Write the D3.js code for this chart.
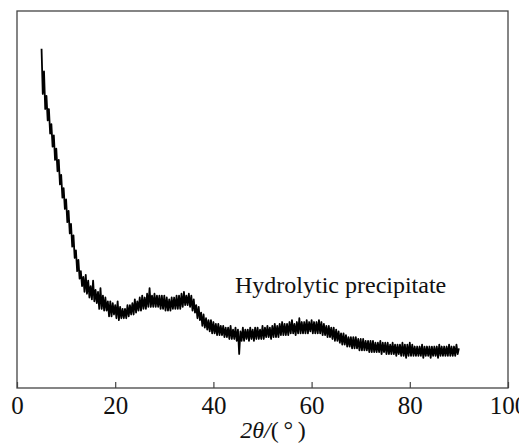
<!DOCTYPE html>
<html>
<head>
<meta charset="utf-8">
<script src="https://cdn.jsdelivr.net/npm/d3@7"></script>
<style>
	body { margin: 0; background: #fff; }
	text { font-family: "Liberation Serif", "Times New Roman", serif; }
</style>
</head>
<body>
<div class="xrd-plot"></div>
<script>
// 2theta sampling of the scan (5 to 90 deg, 0.25 deg step)
const thetaStart = 5;
const thetaStep = 0.25;

// intensity, arbitrary units (0 = frame bottom, 100 = frame top)
const intensity = [
	90, 78, 84, 74,   77.5, 71, 74, 67.5,   70, 64, 67, 60.5,   63.5, 57.5, 60.5, 54,   56.5, 50.5, 53, 47.5,
	50, 44, 47, 41,   43.5, 37.5, 40.5, 34.5,   36.5, 31, 34, 29,   31, 27, 29.5, 25.5,   30, 25, 28.5, 24,
	27, 23.5, 28.5, 23,   26, 22.5, 25.5, 21,   26.5, 21, 24.5, 20.5,   24, 20.5, 23, 19,   23, 19, 22.5, 19.5,
	22, 18.5, 23, 18,   21.5, 18.5, 21, 18.5,   21, 18.5, 22, 19,   22, 19.5, 22.5, 19.5,   23.5, 20, 23, 20.5,
	24, 20.5, 24.5, 21,   24, 21, 25, 21.5,   26.5, 21.5, 24.5, 21.5,   25, 21.5, 24.5, 21.5,   24.5, 21, 24.5, 21,
	24.5, 20.5, 24, 20.5,   23.5, 20.5, 24, 21,   24, 21, 24.5, 21,   24.5, 21, 25, 21.5,   25.5, 22, 24.5, 22,
	25, 21.5, 24.5, 20.5,   23.5, 20, 22, 18.5,   21.5, 18, 20, 16.5,   19.5, 16, 18.5, 15.5,   18, 15, 18, 14.5,
	17.5, 14.5, 17, 14,   17, 14, 16.5, 14,   16.5, 13.5, 16, 13.5,   16, 13, 16.5, 13,   15.5, 13, 16, 12.5,
	15.5, 9, 15, 12.5,   16, 12.5, 15.5, 13,   15.5, 12.5, 16, 13,   15.5, 12.5, 16, 13,   16, 13, 15.5, 13,
	16.5, 13, 16, 13.5,   16.5, 13.5, 16, 13,   16.5, 13.5, 17, 13.5,   16.5, 13.5, 17, 14,   17.5, 14, 17, 14,
	17, 14, 17.5, 14.5,   18, 14.5, 17, 14,   17.5, 14.5, 18.5, 14.5,   17.5, 14.5, 17.5, 14.5,   18, 14.5, 17.5, 15,
	18, 14.5, 17.5, 14.5,   17.5, 14.5, 18, 14.5,   17.5, 14, 17, 14,   16.5, 13.5, 16.5, 13.5,   16, 13, 16, 12.5,
	15.5, 12.5, 15, 12,   14.5, 11.5, 14.5, 11.5,   14, 11, 13.5, 11,   13.5, 10.5, 13.5, 10.5,   13.5, 10.5, 13, 10,
	13, 10, 13, 10,   12.5, 10, 12.5, 9.5,   12.5, 9.5, 12.5, 9.5,   12, 9.5, 12, 9.5,   12.5, 9, 12, 9.5,
	12, 9, 12, 9,   11.5, 9, 12, 9,   11.5, 8.5, 11.5, 9,   11.5, 8.5, 12, 8.5,   11.5, 8, 11.5, 8.5,
	12, 8.5, 11.5, 8.5,   11, 8.5, 11, 8.5,   11, 8.5, 11.5, 8,   11, 8.5, 11, 8.5,   11, 8, 11, 8.5,
	11, 8.5, 11, 8,   11.5, 8.5, 11, 8.5,   11, 8.5, 11, 8.5,   11.5, 8.5, 11, 8.5,   11, 8.5, 11.5, 9,
	10.5
];

const xTicks = [0, 20, 40, 60, 80, 100];
const sampleLabel = "Hydrolytic precipitate";

const width = 519;
const height = 443;
const plotLeft = 17, plotRight = 508, plotTop = 11, plotBottom = 388;

const svg = d3.select('.xrd-plot')
	.append('svg')
	.attr('width', width)
	.attr('height', height)

const x = d3.scaleLinear().domain([0, 100]).range([plotLeft, plotRight]);
const y = d3.scaleLinear().domain([0, 100]).range([plotBottom, plotTop]);

let points = intensity.map(function(v, i) {
	return [thetaStart + i * thetaStep, v];
});

// frame
svg.append('rect')
	.attr('x', plotLeft)
	.attr('y', plotTop)
	.attr('width', plotRight - plotLeft)
	.attr('height', plotBottom - plotTop)
	.attr('fill', 'none')
	.attr('stroke', '#444')
	.attr('stroke-width', 1.3)

// x axis, ticks pointing inward
let xAxis = svg.append('g')
	.attr('transform', 'translate(0,' + plotBottom + ')')
	.call(d3.axisBottom(x).tickValues(xTicks).tickSizeInner(-6).tickSizeOuter(0))
xAxis.select('.domain').remove();
xAxis.selectAll('line').attr('stroke', '#444').attr('stroke-width', 1.2);
xAxis.selectAll('text')
	.attr('font-size', '25px')
	.attr('fill', '#111')
	.attr('y', 26)
	.attr('dy', 0);

// pattern
svg.append('path')
	.datum(points)
	.attr('fill', 'none')
	.attr('stroke', '#000')
	.attr('stroke-width', 1.8)
	.attr('stroke-linejoin', 'round')
	.attr('d', d3.line()
		.x(function(d) { return x(d[0]); })
		.y(function(d) { return y(d[1]); }));

// sample label
svg.append('text')
	.text(sampleLabel)
	.attr('x', 235)
	.attr('y', 293)
	.attr('font-size', '24px')
	.attr('fill', '#111');

// axis title 2θ/(°)
let title = svg.append('text')
	.attr('x', 273)
	.attr('y', 438)
	.attr('text-anchor', 'middle')
	.attr('font-size', '24px')
	.attr('fill', '#111');
title.append('tspan').attr('font-style', 'italic').text('2θ/');
title.append('tspan').text('(\u2009°\u2009)');
</script>
</body>
</html>
